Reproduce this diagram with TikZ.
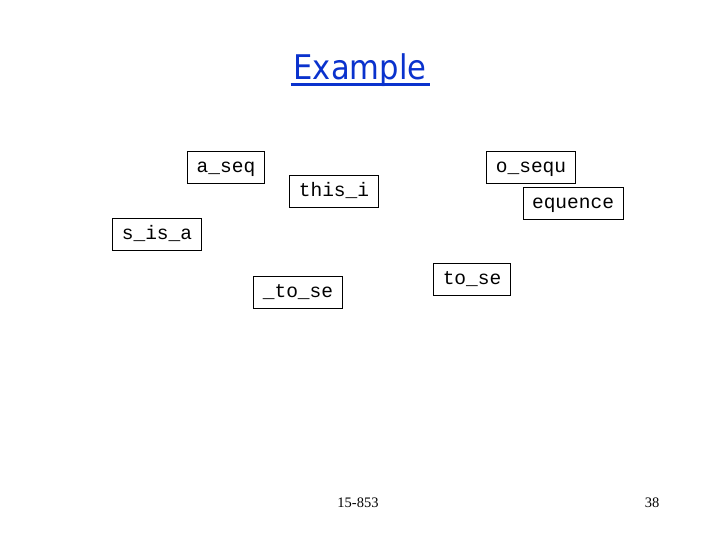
\documentclass[tikz,border=0pt]{standalone}
\usepackage{fontspec}
\setmainfont{Liberation Serif}
\newfontfamily\boxfont{Liberation Mono}
\newfontfamily\titlefont{DejaVu Sans}
\definecolor{titleblue}{RGB}{10,50,205}
\tikzset{
  wordbox/.style={draw=black, line width=0.9bp, font=\boxfont\fontsize{19.5bp}{22bp}\selectfont,
    inner xsep=9bp, inner ysep=0bp, minimum height=32bp, text height=14bp, text depth=3bp},
  footer/.style={font=\fontsize{14.5bp}{16bp}\selectfont, inner sep=0pt}
}
\begin{document}
\begin{tikzpicture}[x=1bp,y=-1bp]
\useasboundingbox (0,0) rectangle (720,540);
\node[text=titleblue, font=\titlefont\fontsize{34bp}{36bp}\selectfont, inner sep=0pt, anchor=base, xscale=0.9] (title) at (360,80) {Example};
\draw[titleblue, line width=2.8bp] (290.5,84.5) -- (429.5,84.5);
\node[wordbox] (aseq) at (226,167) {a\_seq};
\node[wordbox] (thisi) at (334,191) {this\_i};
\node[wordbox] (osequ) at (531,167) {o\_sequ};
\node[wordbox] (equence) at (573,203) {equence};
\node[wordbox] (sisa) at (157,234) {s\_is\_a};
\node[wordbox] (tose1) at (298,292) {\_to\_se};
\node[wordbox] (tose2) at (472,279) {to\_se};
\node[footer] (course) at (358,503) {15-853};
\node[footer] (page) at (652,503) {38};
\end{tikzpicture}
\end{document}
